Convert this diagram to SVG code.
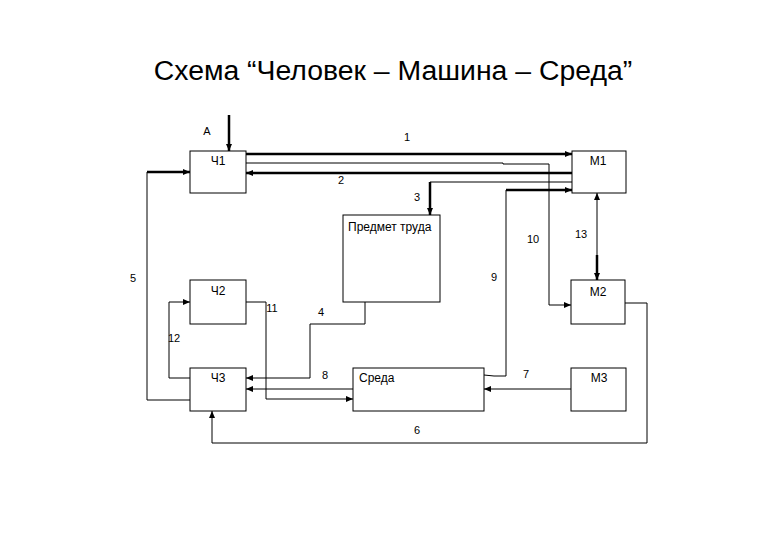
<svg xmlns="http://www.w3.org/2000/svg" width="780" height="540" viewBox="0 0 780 540">
<style>
.box{fill:#fff;stroke:#000;stroke-width:1}
.thin{fill:none;stroke:#000;stroke-width:1}
.thick{fill:none;stroke:#000;stroke-width:2.5}
.t{font-family:"Liberation Sans",Arial,sans-serif;font-size:11px;fill:#000}
.n{font-family:"Liberation Sans",Arial,sans-serif;font-size:12px;fill:#000}
.title{font-family:"Liberation Sans",Arial,sans-serif;font-size:28.4px;fill:#000}
</style>
<defs>
<marker id="ah" viewBox="0 0 7 7" refX="7" refY="3.5" markerWidth="7" markerHeight="7" markerUnits="userSpaceOnUse" orient="auto-start-reverse">
<path d="M0,0.5 L7,3.5 L0,6.5 z" fill="#000"/>
</marker>
</defs>
<rect width="780" height="540" fill="#fff"/>
<text class="title" x="393" y="80" text-anchor="middle">Схема “Человек – Машина – Среда”</text>

<g id="connectors">
<g id="cA"><line class="thick" x1="229" y1="115" x2="229" y2="151" marker-end="url(#ah)"/></g>
<g id="c1"><line class="thick" x1="246" y1="154" x2="572" y2="154" marker-end="url(#ah)"/></g>
<g id="c10"><polyline class="thin" points="246,163 503,163 503,164 549,164 549,305 571,305" marker-end="url(#ah)"/></g>
<g id="c2"><line class="thick" x1="572" y1="173" x2="246" y2="173" marker-end="url(#ah)"/></g>
<g id="c3"><polyline class="thin" points="572,182 430,182 430,184"/><line class="thick" x1="430" y1="182" x2="430" y2="215" marker-end="url(#ah)"/></g>
<g id="c9"><polyline class="thin" points="484,375 494,376 506,376 506,190"/><line class="thick" x1="506" y1="190" x2="572" y2="190" marker-end="url(#ah)"/></g>
<g id="c13"><line class="thin" x1="597" y1="255" x2="597" y2="193" marker-end="url(#ah)"/><line class="thick" x1="597" y1="255" x2="597" y2="280" marker-end="url(#ah)"/></g>
<g id="c5"><polyline class="thin" points="190,400 147,400 147,172"/><line class="thick" x1="147" y1="172" x2="190" y2="172" marker-end="url(#ah)"/></g>
<g id="c12"><polyline class="thin" points="190,378 169,378 169,302 190,302" marker-end="url(#ah)"/></g>
<g id="c11"><polyline class="thin" points="246,302 266,302 266,399 353,399" marker-end="url(#ah)"/></g>
<g id="c4"><polyline class="thin" points="365,302 365,324 310,324 310,378 246,378" marker-end="url(#ah)"/></g>
<g id="c8"><line class="thin" x1="353" y1="389" x2="246" y2="389" marker-end="url(#ah)"/></g>
<g id="c6"><polyline class="thin" points="625,303 647,303 647,443 212,443 212,411" marker-end="url(#ah)"/></g>
<g id="c7"><line class="thin" x1="571" y1="389" x2="484" y2="389" marker-end="url(#ah)"/></g>
</g>

<g id="labels">
<text class="t" x="207" y="135" text-anchor="middle">А</text>
<text class="t" x="407" y="141" text-anchor="middle">1</text>
<text class="t" x="341" y="184" text-anchor="middle">2</text>
<text class="t" x="417" y="201" text-anchor="middle">3</text>
<text class="t" x="321" y="316" text-anchor="middle">4</text>
<text class="t" x="133" y="282" text-anchor="middle">5</text>
<text class="t" x="417" y="434" text-anchor="middle">6</text>
<text class="t" x="526" y="378" text-anchor="middle">7</text>
<text class="t" x="325" y="379" text-anchor="middle">8</text>
<text class="t" x="494" y="281" text-anchor="middle">9</text>
<text class="t" x="533" y="243" text-anchor="middle">10</text>
<text class="t" x="581" y="238" text-anchor="middle">13</text>
<text class="t" x="272" y="312" text-anchor="middle">11</text>
<text class="t" x="174" y="342" text-anchor="middle">12</text>
</g>

<g id="n-ch1"><rect class="box" x="190" y="151" width="56" height="42"/><text class="n" x="218" y="165" text-anchor="middle">Ч1</text></g>
<g id="n-m1"><rect class="box" x="572" y="151" width="54" height="42"/><text class="n" x="598" y="165" text-anchor="middle">М1</text></g>
<g id="n-pt"><rect class="box" x="343" y="215" width="97" height="87"/><text class="n" x="348" y="231">Предмет труда</text></g>
<g id="n-ch2"><rect class="box" x="190" y="280" width="56" height="44"/><text class="n" x="218" y="295" text-anchor="middle">Ч2</text></g>
<g id="n-m2"><rect class="box" x="571" y="280" width="54" height="44"/><text class="n" x="598" y="296" text-anchor="middle">М2</text></g>
<g id="n-ch3"><rect class="box" x="190" y="368" width="56" height="43"/><text class="n" x="218" y="382" text-anchor="middle">Ч3</text></g>
<g id="n-sreda"><rect class="box" x="353" y="368" width="131" height="43"/><text class="n" x="359" y="382">Среда</text></g>
<g id="n-m3"><rect class="box" x="571" y="368" width="55" height="43"/><text class="n" x="599" y="382" text-anchor="middle">М3</text></g>
</svg>
